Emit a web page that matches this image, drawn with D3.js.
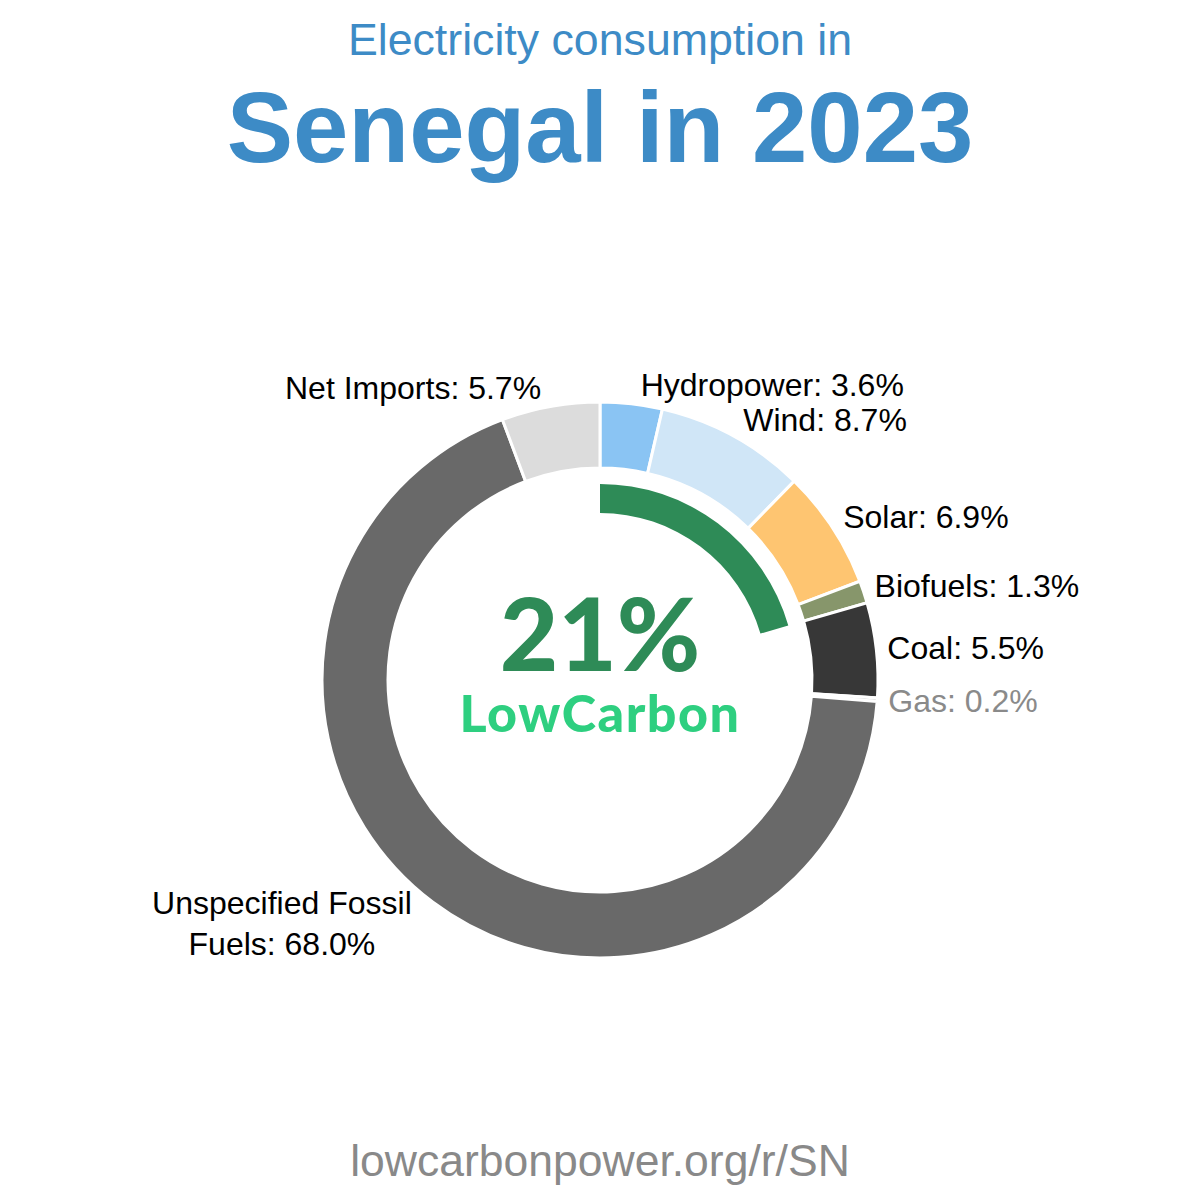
<!DOCTYPE html>
<html>
<head>
<meta charset="utf-8">
<script src="https://cdn.jsdelivr.net/npm/d3@7"></script>
<style>
  html, body { margin: 0; padding: 0; background: #fff; }
  svg { display: block; font-family: "Liberation Sans", Arial, sans-serif; }
</style>
</head>
<body>
<svg id="chart" width="1200" height="1200"></svg>
<script>
// data, clockwise from 12 o'clock
const sources = ['Hydropower', 'Wind', 'Solar', 'Biofuels', 'Coal', 'Gas', 'Unspecified Fossil Fuels', 'Net Imports'];
const shares = [3.6, 8.7, 6.9, 1.3, 5.5, 0.2, 68.0, 5.7];
const colors = ['#8ac4f3', '#d0e6f7', '#fec571', '#87966b', '#373737', '#b5b5b5', '#696969', '#dcdcdc'];
const lowCarbonSources = ['Hydropower', 'Wind', 'Solar', 'Biofuels'];
const lowCarbonLabel = '21%';
const titleLine1 = 'Electricity consumption in';
const titleLine2 = 'Senegal in 2023';
const footer = 'lowcarbonpower.org/r/SN';

const width = 1200, height = 1200;
const cx = 600, cy = 680;
const outerR = 278, innerR = 212;
const svg = d3.select('#chart');

// titles
svg.append('text')
  .attr('x', width / 2).attr('y', 55)
  .attr('text-anchor', 'middle')
  .attr('fill', '#3d8bc6').attr('font-size', 44.7)
  .text(titleLine1);
svg.append('text')
  .attr('x', width / 2).attr('y', 162)
  .attr('text-anchor', 'middle')
  .attr('fill', '#3d8bc6').attr('font-size', 99.5).attr('font-weight', 'bold')
  .text(titleLine2);
svg.append('text')
  .attr('x', width / 2).attr('y', 1176)
  .attr('text-anchor', 'middle')
  .attr('fill', '#898989').attr('font-size', 44.5)
  .text(footer);

const data = sources.map((s, i) => ({ name: s, value: shares[i], color: colors[i] }));

const pie = d3.pie().sort(null).value(d => d.value);
const arcs = pie(data);
const arc = d3.arc().innerRadius(innerR).outerRadius(outerR);

const g = svg.append('g').attr('transform', `translate(${cx},${cy})`);

g.selectAll('path.slice')
  .data(arcs).enter().append('path')
  .attr('class', 'slice')
  .attr('d', arc)
  .attr('fill', d => d.data.color)
  .attr('stroke', '#fff')
  .attr('stroke-width', 3);

// low carbon inner arc
const total = d3.sum(shares);
const lcShare = d3.sum(data.filter(d => lowCarbonSources.includes(d.name)), d => d.value);
const lcArc = d3.arc().innerRadius(167).outerRadius(196)
  .startAngle(0).endAngle(2 * Math.PI * lcShare / total);
g.append('path').attr('d', lcArc()).attr('fill', '#2e8b57');

// centre text
g.append('text')
  .attr('x', 0).attr('y', -9)
  .attr('text-anchor', 'middle')
  .attr('fill', '#2e8b57')
  .attr('font-family', 'Lato, sans-serif').attr('font-weight', 900).attr('font-size', 101)
  .text(lowCarbonLabel);
g.append('text')
  .attr('x', 0).attr('y', 52)
  .attr('text-anchor', 'middle')
  .attr('fill', '#2ecf80')
  .attr('font-family', 'Lato, sans-serif').attr('font-weight', 900).attr('font-size', 52)
  .attr('letter-spacing', 1.5)
  .text('LowCarbon');

// labels
const labelSize = 32;
const labels = g.append('g').attr('font-size', labelSize);
arcs.forEach(d => {
  const a = (d.startAngle + d.endAngle) / 2;
  const s = Math.sin(a), c = Math.cos(a);
  const side = s >= 0 ? 1 : -1;
  const x = side * (9 + 280 * Math.abs(s)), y = -297 * c;
  const txt = `${d.data.name}: ${d.data.value.toFixed(1)}%`;
  const t = labels.append('text')
    .attr('fill', d.data.name === 'Gas' ? '#8a8a8a' : '#000')
    .attr('text-anchor', side > 0 ? 'start' : 'end')
    .attr('x', x).attr('y', y).attr('dy', '0.35em')
    .text(txt);
  if (t.node().getComputedTextLength() > 340) {
    // wrap long labels onto two centred lines
    const words = txt.split(' ');
    const line1 = words.slice(0, 2).join(' ');
    const line2 = words.slice(2).join(' ');
    t.text(null).attr('text-anchor', 'middle');
    const t1 = t.append('tspan').text(line1);
    const t2 = t.append('tspan').text(line2);
    const w = Math.max(t1.node().getComputedTextLength(), t2.node().getComputedTextLength());
    const mx = x + side * (w / 2 + 11);
    t1.attr('x', mx).attr('y', y - 15).attr('dy', '0.35em');
    t2.attr('x', mx).attr('y', y + 26).attr('dy', '0.35em');
  }
});
</script>
</body>
</html>
